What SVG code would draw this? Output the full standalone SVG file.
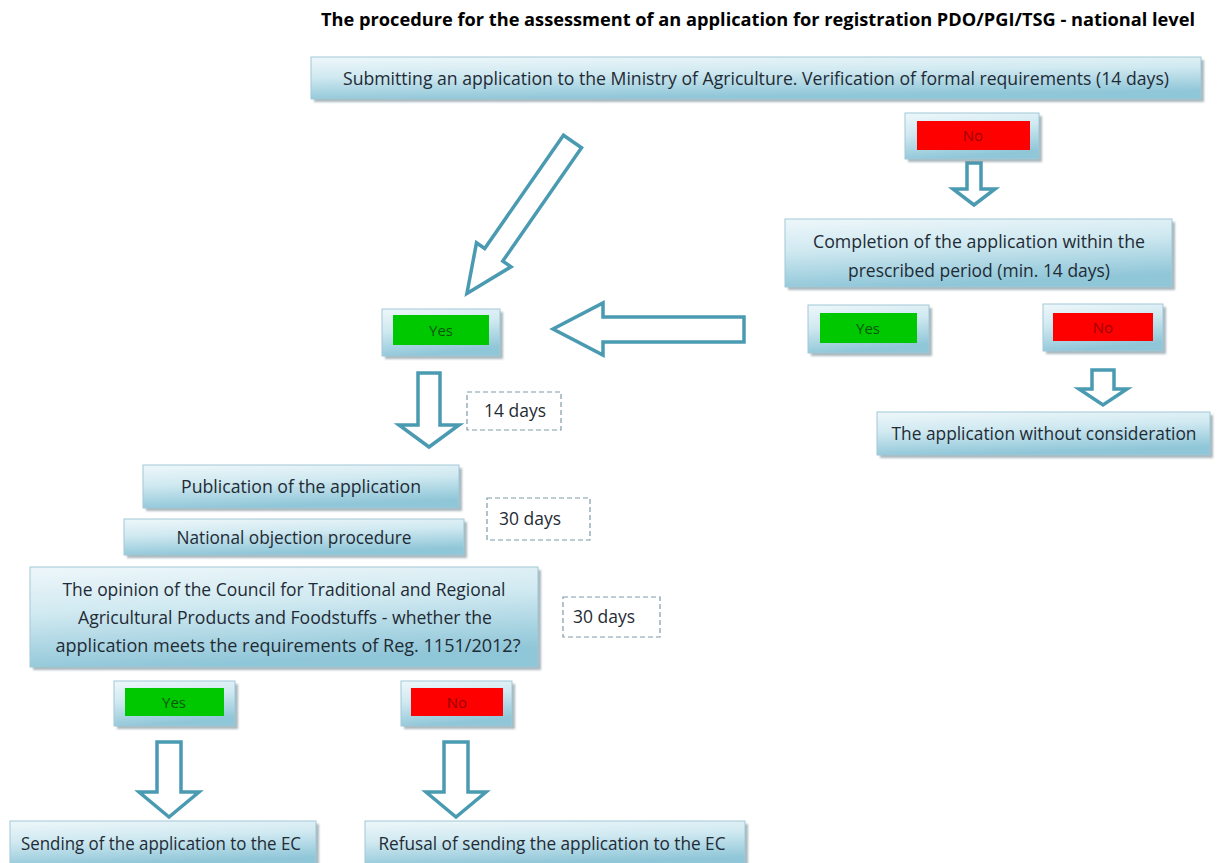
<svg xmlns="http://www.w3.org/2000/svg" width="1232" height="863" viewBox="0 0 1232 863">
<defs>
<linearGradient id="gBox" x1="0" y1="0" x2="0.25" y2="1">
<stop offset="0" stop-color="#eef7fa"/>
<stop offset="0.45" stop-color="#d0e9f1"/>
<stop offset="1" stop-color="#8fc6d8"/>
</linearGradient>
<filter id="blur" x="-5%" y="-20%" width="110%" height="140%"><feGaussianBlur stdDeviation="1.2"/></filter>
<style>
.sh{fill:#6f8790;opacity:.6;filter:url(#blur)}
.box{fill:url(#gBox);stroke:#a2c8d6;stroke-width:1}
.arrow{fill:#fff;stroke:#4a9ab2;stroke-width:3.5;stroke-linejoin:miter}
.dash{fill:#fff;stroke:#7f9aa8;stroke-width:1.2;stroke-dasharray:5 3}
.t{font-family:"Open Sans","Liberation Sans",sans-serif;font-size:17.5px;fill:#1f2b35;text-anchor:middle}
.tb{font-family:"Open Sans","Liberation Sans",sans-serif;font-size:17px;font-weight:bold;fill:#000;text-anchor:middle}
.green{fill:#00c800}
.red{fill:#ff0000}
.ty{font-family:"Open Sans","Liberation Sans",sans-serif;font-size:15px;fill:#0a560a;text-anchor:middle}
.tn{font-family:"Open Sans","Liberation Sans",sans-serif;font-size:15px;fill:#9a0000;text-anchor:middle}
</style>
</defs>
<rect width="1232" height="863" fill="#fff"/>

<text class="tb" x="758" y="26" textLength="874" lengthAdjust="spacingAndGlyphs">The procedure for the assessment of an application for registration PDO/PGI/TSG - national level</text>

<g id="connectors">
<path class="arrow" d="M967,163 L981,163 L981,189 L995,189 L974,205 L953,189 L967,189 Z"/>
<path class="arrow" transform="translate(572.5,141.5) rotate(34.8)" d="M-11,0 L11,0 L11,138 L21,138 L0,185 L-21,138 L-11,138 Z"/>
<path class="arrow" d="M744,317 L603,317 L603,303 L553,329 L603,355 L603,342 L744,342 Z"/>
<path class="arrow" d="M1092,370 L1114,370 L1114,389 L1127,389 L1103,405 L1079,389 L1092,389 Z"/>
<path class="arrow" d="M418,373 L440,373 L440,425 L459,425 L429,447 L399,425 L418,425 Z"/>
<path class="arrow" d="M157,742 L181,742 L181,792 L199,792 L169,817 L139,792 L157,792 Z"/>
<path class="arrow" d="M444,742 L468,742 L468,792 L486,792 L456,817 L426,792 L444,792 Z"/>
</g>

<g id="submit">
<rect class="sh" x="314" y="60" width="890" height="42"/>
<rect class="box" x="311" y="57" width="890" height="42"/>
<text class="t" x="756" y="85" textLength="826" lengthAdjust="spacingAndGlyphs">Submitting an application to the Ministry of Agriculture. Verification of formal requirements (14 days)</text>
</g>

<g id="no-top">
<rect class="sh" x="908" y="116" width="134" height="46"/>
<rect class="box" x="905" y="113" width="134" height="46"/>
<rect class="red" x="917" y="121" width="113" height="29"/>
<text class="tn" x="973" y="141">No</text>
</g>

<g id="completion">
<rect class="sh" x="788" y="222" width="387" height="68"/>
<rect class="box" x="785" y="219" width="387" height="68"/>
<text class="t" x="979" y="248" textLength="332" lengthAdjust="spacingAndGlyphs">Completion of the application within the</text>
<text class="t" x="979" y="277" textLength="262" lengthAdjust="spacingAndGlyphs">prescribed period (min. 14 days)</text>
</g>

<g id="yes-right">
<rect class="sh" x="811" y="308" width="121" height="48"/>
<rect class="box" x="808" y="305" width="121" height="48"/>
<rect class="green" x="820" y="313" width="97" height="30"/>
<text class="ty" x="868" y="334">Yes</text>
</g>

<g id="no-right">
<rect class="sh" x="1046" y="307" width="120" height="47"/>
<rect class="box" x="1043" y="304" width="120" height="47"/>
<rect class="red" x="1053" y="313" width="100" height="28"/>
<text class="tn" x="1103" y="333">No</text>
</g>

<g id="without">
<rect class="sh" x="880" y="415" width="333" height="43"/>
<rect class="box" x="877" y="412" width="333" height="43"/>
<text class="t" x="1044" y="440" textLength="305" lengthAdjust="spacingAndGlyphs">The application without consideration</text>
</g>

<g id="yes-left">
<rect class="sh" x="385" y="312" width="118" height="47"/>
<rect class="box" x="382" y="309" width="118" height="47"/>
<rect class="green" x="393" y="315" width="96" height="30"/>
<text class="ty" x="441" y="336">Yes</text>
</g>

<g id="days14">
<rect class="dash" x="467" y="392" width="94" height="38"/>
<text class="t" x="515" y="417" textLength="62" lengthAdjust="spacingAndGlyphs">14 days</text>
</g>

<g id="publication">
<rect class="sh" x="146" y="468" width="316" height="43"/>
<rect class="box" x="143" y="465" width="316" height="43"/>
<text class="t" x="301" y="493" textLength="240" lengthAdjust="spacingAndGlyphs">Publication of the application</text>
</g>

<g id="days30a">
<rect class="dash" x="487" y="498" width="103" height="42"/>
<text class="t" x="530" y="525" textLength="62" lengthAdjust="spacingAndGlyphs">30 days</text>
</g>

<g id="national">
<rect class="sh" x="127" y="522" width="340" height="36"/>
<rect class="box" x="124" y="519" width="340" height="36"/>
<text class="t" x="294" y="544" textLength="235" lengthAdjust="spacingAndGlyphs">National objection procedure</text>
</g>

<g id="opinion">
<rect class="sh" x="33" y="570" width="508" height="100"/>
<rect class="box" x="30" y="567" width="508" height="100"/>
<text class="t" x="284" y="596" textLength="443" lengthAdjust="spacingAndGlyphs">The opinion of the Council for Traditional and Regional</text>
<text class="t" x="285" y="624" textLength="414" lengthAdjust="spacingAndGlyphs">Agricultural Products and Foodstuffs - whether the</text>
<text class="t" x="288" y="652" textLength="465" lengthAdjust="spacingAndGlyphs">application meets the requirements of Reg. 1151/2012?</text>
</g>

<g id="days30b">
<rect class="dash" x="563" y="597" width="97" height="40"/>
<text class="t" x="604" y="623" textLength="62" lengthAdjust="spacingAndGlyphs">30 days</text>
</g>

<g id="yes-bottom">
<rect class="sh" x="117" y="684" width="121" height="45"/>
<rect class="box" x="114" y="681" width="121" height="45"/>
<rect class="green" x="125" y="688" width="99" height="28"/>
<text class="ty" x="174" y="708">Yes</text>
</g>

<g id="no-bottom">
<rect class="sh" x="404" y="684" width="111" height="45"/>
<rect class="box" x="401" y="681" width="111" height="45"/>
<rect class="red" x="411" y="688" width="92" height="28"/>
<text class="tn" x="457" y="708">No</text>
</g>

<g id="sending">
<rect class="sh" x="13" y="824" width="306" height="45"/>
<rect class="box" x="10" y="821" width="306" height="45"/>
<text class="t" x="161" y="850" textLength="280" lengthAdjust="spacingAndGlyphs">Sending of the application to the EC</text>
</g>

<g id="refusal">
<rect class="sh" x="368" y="824" width="380" height="45"/>
<rect class="box" x="365" y="821" width="380" height="45"/>
<text class="t" x="552" y="850" textLength="347" lengthAdjust="spacingAndGlyphs">Refusal of sending the application to the EC</text>
</g>
</svg>
